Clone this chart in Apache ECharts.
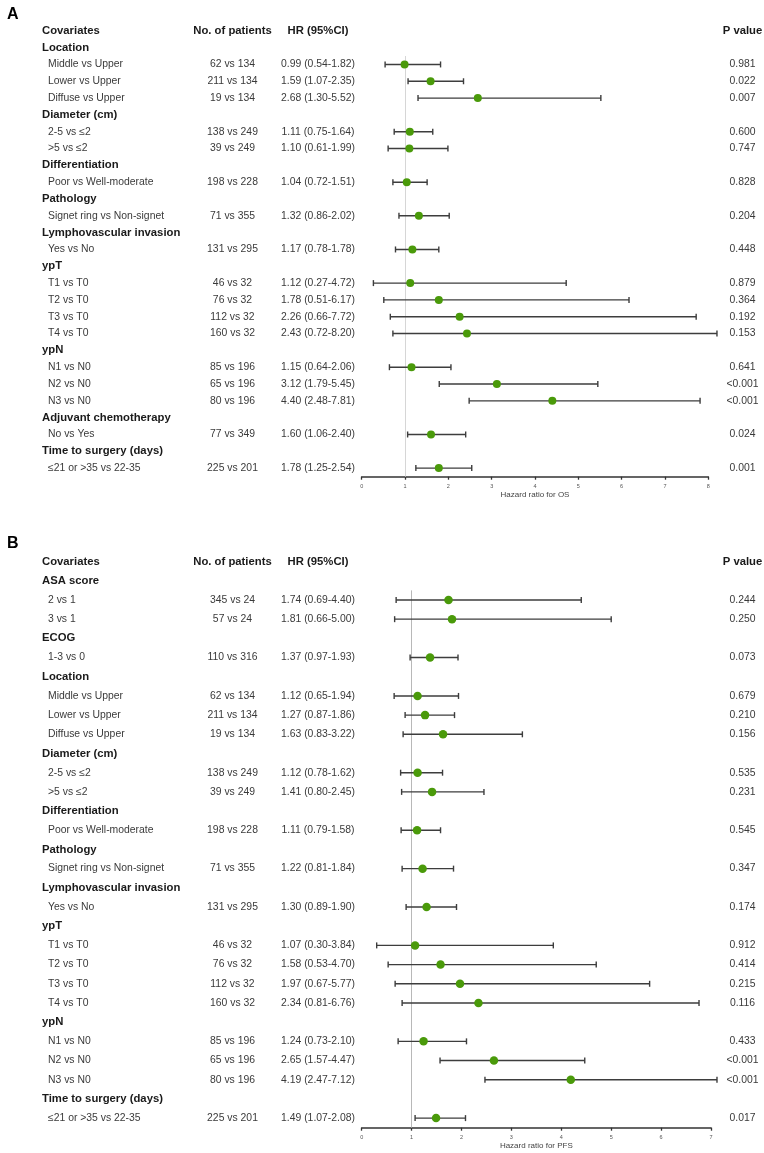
<!DOCTYPE html>
<html>
<head>
<meta charset="utf-8">
<title>Forest plots OS / PFS</title>
<script src="https://cdn.jsdelivr.net/npm/echarts@6/dist/echarts.min.js"></script>
<style>
  html, body { margin: 0; padding: 0; background: #fff; }
  #chart { width: 764px; height: 1153px; }
</style>
</head>
<body>
<div id="chart"></div>
<script>
// column headers (row 0 of each panel)
const columnHeaders = ['Covariates', 'No. of patients', 'HR (95%CI)', 'P value'];

// Panel A - overall survival (null = group header row)
const osLabels = ['Location', 'Middle vs Upper', 'Lower vs Upper', 'Diffuse vs Upper',
  'Diameter (cm)', '2-5 vs ≤2', '>5 vs ≤2',
  'Differentiation', 'Poor vs Well-moderate',
  'Pathology', 'Signet ring vs Non-signet',
  'Lymphovascular invasion', 'Yes vs No',
  'ypT', 'T1 vs T0', 'T2 vs T0', 'T3 vs T0', 'T4 vs T0',
  'ypN', 'N1 vs N0', 'N2 vs N0', 'N3 vs N0',
  'Adjuvant chemotherapy', 'No vs Yes',
  'Time to surgery (days)', '≤21 or >35 vs 22-35'];
const osPatients = [null, '62 vs 134', '211 vs 134', '19 vs 134',
  null, '138 vs 249', '39 vs 249',
  null, '198 vs 228',
  null, '71 vs 355',
  null, '131 vs 295',
  null, '46 vs 32', '76 vs 32', '112 vs 32', '160 vs 32',
  null, '85 vs 196', '65 vs 196', '80 vs 196',
  null, '77 vs 349',
  null, '225 vs 201'];
const osHR   = [null, 0.99, 1.59, 2.68, null, 1.11, 1.10, null, 1.04, null, 1.32, null, 1.17,
  null, 1.12, 1.78, 2.26, 2.43, null, 1.15, 3.12, 4.40, null, 1.60, null, 1.78];
const osLow  = [null, 0.54, 1.07, 1.30, null, 0.75, 0.61, null, 0.72, null, 0.86, null, 0.78,
  null, 0.27, 0.51, 0.66, 0.72, null, 0.64, 1.79, 2.48, null, 1.06, null, 1.25];
const osHigh = [null, 1.82, 2.35, 5.52, null, 1.64, 1.99, null, 1.51, null, 2.02, null, 1.78,
  null, 4.72, 6.17, 7.72, 8.20, null, 2.06, 5.45, 7.81, null, 2.40, null, 2.54];
const osP    = [null, '0.981', '0.022', '0.007', null, '0.600', '0.747', null, '0.828', null, '0.204',
  null, '0.448', null, '0.879', '0.364', '0.192', '0.153', null, '0.641', '<0.001', '<0.001',
  null, '0.024', null, '0.001'];
const osTicks = [0, 1, 2, 3, 4, 5, 6, 7, 8];

// Panel B - progression-free survival
const pfsLabels = ['ASA score', '2 vs 1', '3 vs 1',
  'ECOG', '1-3 vs 0',
  'Location', 'Middle vs Upper', 'Lower vs Upper', 'Diffuse vs Upper',
  'Diameter (cm)', '2-5 vs ≤2', '>5 vs ≤2',
  'Differentiation', 'Poor vs Well-moderate',
  'Pathology', 'Signet ring vs Non-signet',
  'Lymphovascular invasion', 'Yes vs No',
  'ypT', 'T1 vs T0', 'T2 vs T0', 'T3 vs T0', 'T4 vs T0',
  'ypN', 'N1 vs N0', 'N2 vs N0', 'N3 vs N0',
  'Time to surgery (days)', '≤21 or >35 vs 22-35'];
const pfsPatients = [null, '345 vs 24', '57 vs 24',
  null, '110 vs 316',
  null, '62 vs 134', '211 vs 134', '19 vs 134',
  null, '138 vs 249', '39 vs 249',
  null, '198 vs 228',
  null, '71 vs 355',
  null, '131 vs 295',
  null, '46 vs 32', '76 vs 32', '112 vs 32', '160 vs 32',
  null, '85 vs 196', '65 vs 196', '80 vs 196',
  null, '225 vs 201'];
const pfsHR   = [null, 1.74, 1.81, null, 1.37, null, 1.12, 1.27, 1.63, null, 1.12, 1.41, null, 1.11,
  null, 1.22, null, 1.30, null, 1.07, 1.58, 1.97, 2.34, null, 1.24, 2.65, 4.19, null, 1.49];
const pfsLow  = [null, 0.69, 0.66, null, 0.97, null, 0.65, 0.87, 0.83, null, 0.78, 0.80, null, 0.79,
  null, 0.81, null, 0.89, null, 0.30, 0.53, 0.67, 0.81, null, 0.73, 1.57, 2.47, null, 1.07];
const pfsHigh = [null, 4.40, 5.00, null, 1.93, null, 1.94, 1.86, 3.22, null, 1.62, 2.45, null, 1.58,
  null, 1.84, null, 1.90, null, 3.84, 4.70, 5.77, 6.76, null, 2.10, 4.47, 7.12, null, 2.08];
const pfsP    = [null, '0.244', '0.250', null, '0.073', null, '0.679', '0.210', '0.156', null, '0.535',
  '0.231', null, '0.545', null, '0.347', null, '0.174', null, '0.912', '0.414', '0.215', '0.116',
  null, '0.433', '<0.001', '<0.001', null, '0.017'];
const pfsTicks = [0, 1, 2, 3, 4, 5, 6, 7];

const FONT = '"Liberation Sans", Arial, sans-serif';
const GREEN = '#4a9a0a';

// layout of the two panels: y of header row, row height, y of axis line
const panels = [
  { labels: osLabels, n: osPatients, hr: osHR, lo: osLow, hi: osHigh, p: osP, ticks: osTicks,
    name: 'Hazard ratio for OS', y0: 30.8, rowH: 16.82, axisY: 476.7, refColor: '#d6d6d6', dot: 8 },
  { labels: pfsLabels, n: pfsPatients, hr: pfsHR, lo: pfsLow, hi: pfsHigh, p: pfsP, ticks: pfsTicks,
    name: 'Hazard ratio for PFS', y0: 561.6, rowH: 19.19, axisY: 1127.7, refColor: '#b8b8b8', dot: 8.5 }
];

const grids = [], xAxes = [], yAxes = [], series = [];

panels.forEach((pn, k) => {
  const yMax = (pn.axisY - pn.y0) / pn.rowH;
  const top = pn.y0 - 0.5 * pn.rowH;
  const xMax = pn.ticks[pn.ticks.length - 1];
  grids.push({ left: 361.7, width: k === 0 ? 346.6 : 349.3, top: top, height: pn.axisY - top });
  xAxes.push({
    gridIndex: k, type: 'value', min: 0, max: xMax, interval: 1, position: 'bottom',
    name: pn.name, nameLocation: 'middle', nameGap: 13,
    nameTextStyle: { fontFamily: FONT, fontSize: 8, color: '#444' },
    axisLine: { show: true, onZero: false, lineStyle: { color: '#333', width: 1.5 } },
    axisTick: { show: true, length: 3, lineStyle: { color: '#333', width: 1.3 } },
    axisLabel: { fontFamily: FONT, fontSize: 5.5, color: '#555', margin: 7 },
    splitLine: { show: false }
  });
  yAxes.push({ gridIndex: k, type: 'value', inverse: true, min: -0.5, max: yMax, show: false });

  // table text: column headers + one line per row
  const textData = [[0, 0]];
  pn.labels.forEach((l, i) => textData.push([0, i + 1]));
  series.push({
    type: 'custom', xAxisIndex: k, yAxisIndex: k, data: textData, silent: true, clip: false,
    renderItem: function (params, api) {
      const idx = api.value(1);
      const y = api.coord([0, idx])[1];
      const txt = (s, x, align, bold) => ({
        type: 'text', x: x, y: y,
        style: { text: s, align: align, verticalAlign: 'middle', fontFamily: FONT,
          fontSize: bold ? 11.3 : 10.4, fontWeight: bold ? 'bold' : 'normal',
          fill: bold ? '#1a1a1a' : '#3a3a3a' }
      });
      if (idx === 0) {
        return { type: 'group', children: [
          txt(columnHeaders[0], 42, 'left', true),
          txt(columnHeaders[1], 232.5, 'center', true),
          txt(columnHeaders[2], 318, 'center', true),
          txt(columnHeaders[3], 742.5, 'center', true)
        ] };
      }
      const i = idx - 1;
      if (pn.n[i] === null) {
        return { type: 'group', children: [txt(pn.labels[i], 42, 'left', true)] };
      }
      const hrText = pn.hr[i].toFixed(2) + ' (' + pn.lo[i].toFixed(2) + '-' + pn.hi[i].toFixed(2) + ')';
      return { type: 'group', children: [
        txt(pn.labels[i], 48, 'left', false),
        txt(pn.n[i], 232.5, 'center', false),
        txt(hrText, 318, 'center', false),
        txt(pn.p[i], 742.5, 'center', false)
      ] };
    }
  });

  // confidence interval whiskers
  const ciData = [];
  pn.hr.forEach((v, i) => { if (v !== null) ciData.push([i + 1, v, pn.lo[i], pn.hi[i]]); });
  series.push({
    type: 'custom', xAxisIndex: k, yAxisIndex: k, data: ciData, silent: true, clip: false, z: 3,
    encode: { x: [1, 2, 3], y: 0 },
    renderItem: function (params, api) {
      const a = api.coord([api.value(2), api.value(0)]);
      const b = api.coord([api.value(3), api.value(0)]);
      const h = 3;
      const st = { stroke: '#3d3d3d', lineWidth: 1.4 };
      return { type: 'group', children: [
        { type: 'line', shape: { x1: a[0], y1: a[1], x2: b[0], y2: b[1] }, style: st },
        { type: 'line', shape: { x1: a[0], y1: a[1] - h, x2: a[0], y2: a[1] + h }, style: st },
        { type: 'line', shape: { x1: b[0], y1: b[1] - h, x2: b[0], y2: b[1] + h }, style: st }
      ] };
    }
  });

  // point estimates + reference line at HR = 1
  const ptData = [];
  pn.hr.forEach((v, i) => { if (v !== null) ptData.push([v, i + 1]); });
  series.push({
    type: 'scatter', xAxisIndex: k, yAxisIndex: k, data: ptData, z: 5, silent: true,
    symbol: 'circle', symbolSize: pn.dot, itemStyle: { color: GREEN, opacity: 1 },
    markLine: {
      silent: true, symbol: 'none', label: { show: false }, z: 1,
      lineStyle: { color: pn.refColor, width: 1, type: 'solid' },
      data: [[{ coord: [1, 1.5] }, { coord: [1, yMax] }]]
    }
  });
});

const chart = echarts.init(document.getElementById('chart'));
chart.setOption({
  animation: false,
  backgroundColor: '#fff',
  title: [
    { text: 'A', left: 2, top: 2, textStyle: { fontFamily: FONT, fontSize: 16, fontWeight: 'bold', color: '#000' } },
    { text: 'B', left: 2, top: 531, textStyle: { fontFamily: FONT, fontSize: 16, fontWeight: 'bold', color: '#000' } }
  ],
  grid: grids,
  xAxis: xAxes,
  yAxis: yAxes,
  series: series
});
</script>
</body>
</html>
